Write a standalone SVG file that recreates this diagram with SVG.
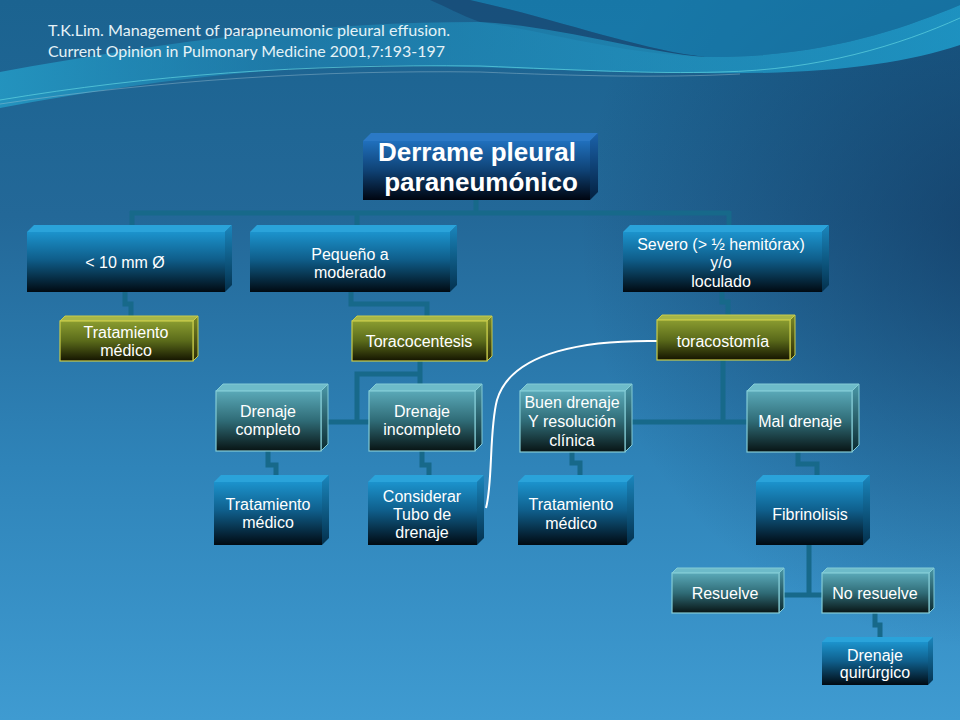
<svg xmlns="http://www.w3.org/2000/svg" width="960" height="720" viewBox="0 0 960 720">
<defs>
<linearGradient id="bg" x1="0" y1="0" x2="0" y2="1">
<stop offset="0" stop-color="#1b6390"/>
<stop offset="0.3" stop-color="#236898"/>
<stop offset="0.65" stop-color="#2f84b9"/>
<stop offset="1" stop-color="#3f9bd1"/>
</linearGradient>
<radialGradient id="bgDark" cx="1000" cy="230" r="420" gradientUnits="userSpaceOnUse">
<stop offset="0" stop-color="#0c2c52" stop-opacity="0.6"/>
<stop offset="1" stop-color="#0c2c52" stop-opacity="0"/>
</radialGradient>
<linearGradient id="bandG" x1="0" y1="0" x2="1" y2="0">
<stop offset="0" stop-color="#25a2cc" stop-opacity="0.75"/>
<stop offset="0.3" stop-color="#1f92c0" stop-opacity="0.45"/>
<stop offset="0.7" stop-color="#22a0cc" stop-opacity="0.65"/>
<stop offset="1" stop-color="#1fa6d6" stop-opacity="0.75"/>
</linearGradient>
<linearGradient id="blueF" x1="0" y1="0" x2="0" y2="1">
<stop offset="0" stop-color="#1c93cd"/>
<stop offset="0.45" stop-color="#0f5f8c"/>
<stop offset="1" stop-color="#010a12"/>
</linearGradient>
<linearGradient id="blueS" x1="0" y1="0" x2="0" y2="1">
<stop offset="0" stop-color="#1a86bd"/>
<stop offset="1" stop-color="#03304d"/>
</linearGradient>
<linearGradient id="rootF" x1="0" y1="0" x2="0" y2="1">
<stop offset="0" stop-color="#2070bd"/>
<stop offset="0.5" stop-color="#0f4275"/>
<stop offset="1" stop-color="#000510"/>
</linearGradient>
<linearGradient id="rootS" x1="0" y1="0" x2="0" y2="1">
<stop offset="0" stop-color="#1b62aa"/>
<stop offset="1" stop-color="#03203f"/>
</linearGradient>
<linearGradient id="oliveF" x1="0" y1="0" x2="0" y2="1">
<stop offset="0" stop-color="#8a9c30"/>
<stop offset="0.5" stop-color="#5a6a1a"/>
<stop offset="1" stop-color="#141400"/>
</linearGradient>
<linearGradient id="oliveS" x1="0" y1="0" x2="0" y2="1">
<stop offset="0" stop-color="#7a8a28"/>
<stop offset="1" stop-color="#2a2a05"/>
</linearGradient>
<linearGradient id="tealF" x1="0" y1="0" x2="0" y2="1">
<stop offset="0" stop-color="#5aa9b8"/>
<stop offset="0.5" stop-color="#2f6b76"/>
<stop offset="1" stop-color="#081414"/>
</linearGradient>
<linearGradient id="tealS" x1="0" y1="0" x2="0" y2="1">
<stop offset="0" stop-color="#4a98a8"/>
<stop offset="1" stop-color="#0a2a30"/>
</linearGradient>
</defs>
<style>
.conn{fill:none;stroke:#17698a;stroke-width:5;stroke-linejoin:miter}
.curve{fill:none;stroke:#ffffff;stroke-width:2}
.bF{fill:url(#blueF)} .bT{fill:#2aa3da} .bS{fill:url(#blueS)}
.rF{fill:url(#rootF)} .rT{fill:#2b79c6} .rS{fill:url(#rootS)}
.oF{fill:url(#oliveF);stroke:#c9cc4a;stroke-width:1.2} .oT{fill:#a6b648;stroke:#c9cc4a;stroke-width:1} .oS{fill:url(#oliveS);stroke:#c9cc4a;stroke-width:1}
.tF{fill:url(#tealF);stroke:#84ccd6;stroke-width:1.2} .tT{fill:#6dbbc9;stroke:#84ccd6;stroke-width:1} .tS{fill:url(#tealS);stroke:#84ccd6;stroke-width:1}
.lbl{font-family:"Liberation Sans",Arial,sans-serif;font-size:16px;fill:#ffffff;text-anchor:middle}
.root{font-family:"Liberation Sans",Arial,sans-serif;font-size:26px;font-weight:bold;fill:#ffffff;text-anchor:middle}
.cite{font-family:Lato,"Open Sans",sans-serif;font-size:16px;fill:#e4f2f7}
</style>
<rect x="0" y="0" width="960" height="720" fill="url(#bg)"/>
<rect x="0" y="0" width="960" height="720" fill="url(#bgDark)"/>
<path d="M470,0 H960 V5 C900,30 820,58 705,57 C640,50 560,20 470,0 Z" fill="#1685b8" opacity="0.6"/>
<path d="M430,0 L470,0 C560,20 640,50 705,57 C620,54 540,30 480,22 C460,15 445,6 430,0 Z" fill="#163f6a" opacity="0.55"/>
<path d="M0,72 C150,45 300,22 480,22 C560,26 640,52 705,57 C820,58 900,30 960,5 L960,45 C900,65 820,75 700,73 C600,72 520,68 430,66 C300,62 150,80 0,108 Z" fill="url(#bandG)"/>
<path d="M0,100 C150,75 300,64 480,66 C580,70 650,74 720,72 C820,70 900,45 960,18" fill="none" stroke="#5fd3e0" stroke-width="1" opacity="0.7"/>
<path d="M0,104 C160,80 320,70 480,72 C580,76 660,78 740,74" fill="none" stroke="#a8c8d8" stroke-width="0.8" opacity="0.5"/>
<g id="citation">
<text class="cite" x="48" y="36" textLength="402" lengthAdjust="spacingAndGlyphs">T.K.Lim. Management of parapneumonic pleural effusion.</text>
<text class="cite" x="48" y="57" textLength="397" lengthAdjust="spacingAndGlyphs">Current Opinion in Pulmonary Medicine 2001,7:193-197</text>
</g>
<g id="connectors">
<path class="conn" d="M476,200 V213 M130,213 H730 M132,211 V226 M357,211 V226 M729,211 V226"/>
<path class="conn" d="M125,292 V304 H131 V317"/>
<path class="conn" d="M351,292 V304 H427 V317"/>
<path class="conn" d="M722,292 V302 H728 V316"/>
<path class="conn" d="M420,361 V422 M321,422 H369 M420,374 H357 V422"/>
<path class="conn" d="M268,451 V465 H276 V476"/>
<path class="conn" d="M422,451 V465 H429 V476"/>
<path class="conn" d="M723,360 V422 M625,422 H747"/>
<path class="conn" d="M572,452 V463 H580 V476"/>
<path class="conn" d="M798,452 V464 H817 V476"/>
<path class="conn" d="M809,545 V595 M779,595 H822"/>
<path class="conn" d="M875,613 V625 H880 V638"/>
<path class="curve" d="M657,341 C590,340 512,350 497,400 C489,430 493,482 486,508"/>
</g>
<g id="n-root">
<polygon class="rT" points="363,141 371,133 598,133 590,141"/>
<polygon class="rS" points="590,141 598,133 598,192 590,200"/>
<rect class="rF" x="363" y="141" width="227" height="59"/>
<text class="root" x="477" y="161">Derrame pleural</text>
<text class="root" x="481" y="191">paraneumónico</text>
</g>
<g id="n-a">
<polygon class="bT" points="27,232 34,225 232,225 225,232"/>
<polygon class="bS" points="225,232 232,225 232,285 225,292"/>
<rect class="bF" x="27" y="232" width="198" height="60"/>
<text class="lbl" x="125" y="268">&lt; 10 mm Ø</text>
</g>
<g id="n-b">
<polygon class="bT" points="250,232 257,225 457,225 450,232"/>
<polygon class="bS" points="450,232 457,225 457,285 450,292"/>
<rect class="bF" x="250" y="232" width="200" height="60"/>
<text class="lbl" x="350" y="260">Pequeño a</text>
<text class="lbl" x="350" y="278">moderado</text>
</g>
<g id="n-c">
<polygon class="bT" points="623,232 630,225 829,225 822,232"/>
<polygon class="bS" points="822,232 829,225 829,285 822,292"/>
<rect class="bF" x="623" y="232" width="199" height="60"/>
<text class="lbl" x="721" y="250">Severo (&gt; ½ hemitórax)</text>
<text class="lbl" x="721" y="268">y/o</text>
<text class="lbl" x="721" y="287">loculado</text>
</g>
<g id="n-a2">
<polygon class="oT" points="60,321 65,316 198,316 193,321"/>
<polygon class="oS" points="193,321 198,316 198,356 193,361"/>
<rect class="oF" x="60" y="321" width="133" height="40"/>
<text class="lbl" x="126" y="338">Tratamiento</text>
<text class="lbl" x="126" y="356">médico</text>
</g>
<g id="n-b2">
<polygon class="oT" points="352,321 357,316 492,316 487,321"/>
<polygon class="oS" points="487,321 492,316 492,356 487,361"/>
<rect class="oF" x="352" y="321" width="135" height="40"/>
<text class="lbl" x="419" y="347">Toracocentesis</text>
</g>
<g id="n-c2">
<polygon class="oT" points="657,320 662,315 795,315 790,320"/>
<polygon class="oS" points="790,320 795,315 795,355 790,360"/>
<rect class="oF" x="657" y="320" width="133" height="40"/>
<text class="lbl" x="723" y="347">toracostomía</text>
</g>
<g id="n-dc">
<polygon class="tT" points="216,391 223,384 328,384 321,391"/>
<polygon class="tS" points="321,391 328,384 328,444 321,451"/>
<rect class="tF" x="216" y="391" width="105" height="60"/>
<text class="lbl" x="268" y="417">Drenaje</text>
<text class="lbl" x="268" y="435">completo</text>
</g>
<g id="n-di">
<polygon class="tT" points="369,391 376,384 482,384 475,391"/>
<polygon class="tS" points="475,391 482,384 482,444 475,451"/>
<rect class="tF" x="369" y="391" width="106" height="60"/>
<text class="lbl" x="422" y="417">Drenaje</text>
<text class="lbl" x="422" y="435">incompleto</text>
</g>
<g id="n-bd">
<polygon class="tT" points="520,391 527,384 632,384 625,391"/>
<polygon class="tS" points="625,391 632,384 632,445 625,452"/>
<rect class="tF" x="520" y="391" width="105" height="61"/>
<text class="lbl" x="572" y="408">Buen drenaje</text>
<text class="lbl" x="572" y="427">Y resolución</text>
<text class="lbl" x="572" y="446">clínica</text>
</g>
<g id="n-md">
<polygon class="tT" points="747,391 754,384 859,384 852,391"/>
<polygon class="tS" points="852,391 859,384 859,445 852,452"/>
<rect class="tF" x="747" y="391" width="105" height="61"/>
<text class="lbl" x="800" y="427">Mal drenaje</text>
</g>
<g id="n-tm1">
<polygon class="bT" points="214,482 221,475 329,475 322,482"/>
<polygon class="bS" points="322,482 329,475 329,538 322,545"/>
<rect class="bF" x="214" y="482" width="108" height="63"/>
<text class="lbl" x="268" y="510">Tratamiento</text>
<text class="lbl" x="268" y="528">médico</text>
</g>
<g id="n-ct">
<polygon class="bT" points="368,482 375,475 484,475 477,482"/>
<polygon class="bS" points="477,482 484,475 484,538 477,545"/>
<rect class="bF" x="368" y="482" width="109" height="63"/>
<text class="lbl" x="422" y="502">Considerar</text>
<text class="lbl" x="422" y="520">Tubo de</text>
<text class="lbl" x="422" y="538">drenaje</text>
</g>
<g id="n-tm2">
<polygon class="bT" points="518,482 525,475 634,475 627,482"/>
<polygon class="bS" points="627,482 634,475 634,538 627,545"/>
<rect class="bF" x="518" y="482" width="109" height="63"/>
<text class="lbl" x="571" y="510">Tratamiento</text>
<text class="lbl" x="571" y="529">médico</text>
</g>
<g id="n-fb">
<polygon class="bT" points="756,482 763,475 870,475 863,482"/>
<polygon class="bS" points="863,482 870,475 870,538 863,545"/>
<rect class="bF" x="756" y="482" width="107" height="63"/>
<text class="lbl" x="810" y="520">Fibrinolisis</text>
</g>
<g id="n-rs">
<polygon class="tT" points="672,573 677,568 784,568 779,573"/>
<polygon class="tS" points="779,573 784,568 784,608 779,613"/>
<rect class="tF" x="672" y="573" width="107" height="40"/>
<text class="lbl" x="725" y="599">Resuelve</text>
</g>
<g id="n-nr">
<polygon class="tT" points="822,573 827,568 934,568 929,573"/>
<polygon class="tS" points="929,573 934,568 934,608 929,613"/>
<rect class="tF" x="822" y="573" width="107" height="40"/>
<text class="lbl" x="875" y="599">No resuelve</text>
</g>
<g id="n-dq">
<polygon class="bT" points="822,642 827,637 933,637 928,642"/>
<polygon class="bS" points="928,642 933,637 933,680 928,685"/>
<rect class="bF" x="822" y="642" width="106" height="43"/>
<text class="lbl" x="875" y="661">Drenaje</text>
<text class="lbl" x="875" y="678">quirúrgico</text>
</g>
</svg>
